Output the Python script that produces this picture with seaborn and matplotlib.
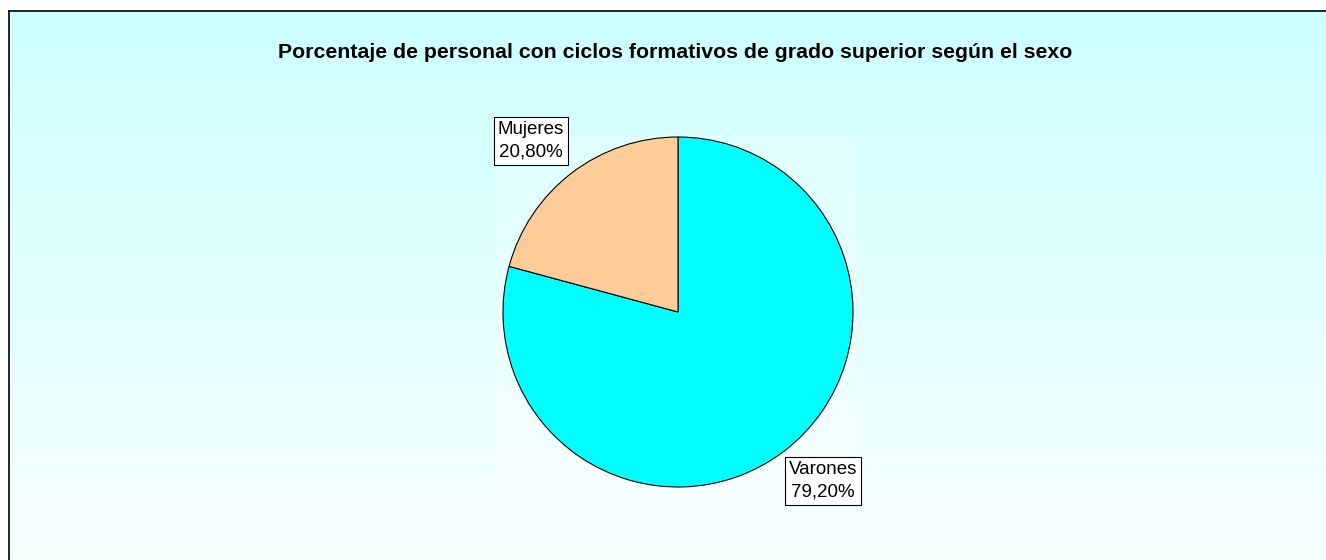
import numpy as np
import matplotlib
matplotlib.use('Agg')
import matplotlib.pyplot as plt
import seaborn as sns
from matplotlib.colors import LinearSegmentedColormap

sns.set_style('white')
plt.rcParams['font.family'] = ['Liberation Sans', 'DejaVu Sans']
plt.rcParams['text.color'] = 'black'

# Data
categories = ['Varones', 'Mujeres']
values = [79.20, 20.80]
colors = ['#00FFFF', '#FFCC99']
title = 'Porcentaje de personal con ciclos formativos de grado superior según el sexo'

W, H = 1326, 560
fig = plt.figure(figsize=(W / 100, H / 100), dpi=100)

# Background with vertical gradient and frame (right/bottom edges cut off)
bg = fig.add_axes([9 / W, 0, 1 - 9 / W, (H - 11) / H])
grad = np.linspace(0, 1, 256).reshape(-1, 1)
cmap = LinearSegmentedColormap.from_list('bg', ['#CCFFFF', '#F8FFFF'])
bg.imshow(grad, aspect='auto', cmap=cmap, extent=[0, 1, 0, 1], origin='upper')
bg.set_xlim(0, 1)
bg.set_ylim(0, 1)
bg.set_xticks([])
bg.set_yticks([])
for side in ['right', 'bottom']:
    bg.spines[side].set_visible(False)
for side in ['left', 'top']:
    bg.spines[side].set_visible(True)
    bg.spines[side].set_color('black')
    bg.spines[side].set_linewidth(1.2)

# Plot area (slightly lighter square)
pa = fig.add_axes([497 / W, (H - 495) / H, 360 / W, 360 / H])
pa.set_facecolor((1, 1, 1, 0.25))
pa.set_xticks([])
pa.set_yticks([])
for s in pa.spines.values():
    s.set_visible(False)

fig.text(675 / W, 1 - 52 / H, title, ha='center', va='center',
         fontsize=15.3, fontweight='bold', color='black')

# Pie
cx, cy, r = 678, 312, 175
ax = fig.add_axes([(cx - r) / W, (H - cy - r) / H, 2 * r / W, 2 * r / H])
ax.pie(values, colors=colors, startangle=90, counterclock=False, radius=1,
       wedgeprops=dict(edgecolor='black', linewidth=0.8))
ax.set_xlim(-1, 1)
ax.set_ylim(-1, 1)
ax.set_aspect('equal')
ax.axis('off')

label_pos = {'Mujeres': (531, 141), 'Varones': (823, 481)}
for cat, val in zip(categories, values):
    px, py = label_pos[cat]
    txt = f'{cat}\n{val:.2f}%'.replace('.', ',')
    fig.text(px / W, 1 - py / H, txt, ha='center', va='center', fontsize=13.5,
             linespacing=1.4, color='black',
             bbox=dict(boxstyle='square,pad=0.22', facecolor='white',
                       edgecolor='black', linewidth=0.8))

fig.savefig('out.png', dpi=100)
